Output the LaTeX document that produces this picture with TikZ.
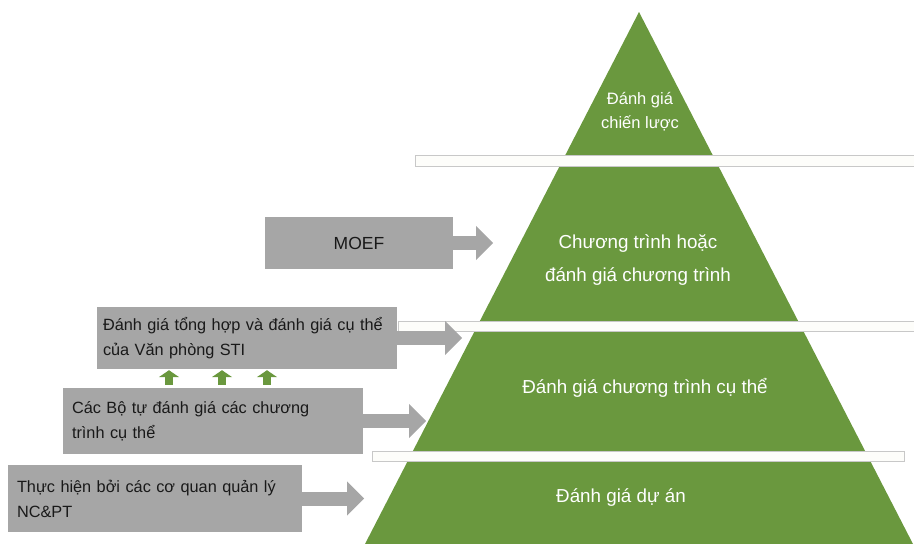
\documentclass[tikz,border=0pt]{standalone}
\usepackage{fontspec}
\setmainfont{Liberation Sans}
\usetikzlibrary{arrows.meta,positioning}
\definecolor{pyrgreen}{RGB}{106,152,62}
\definecolor{boxgray}{RGB}{166,166,166}
\definecolor{barline}{RGB}{200,200,200}
\definecolor{barfill}{RGB}{253,253,250}
\definecolor{boxtext}{RGB}{25,25,25}

\begin{document}
\begin{tikzpicture}[x=1pt,y=-1pt,
  boxnode/.style={fill=boxgray, inner xsep=9pt, inner ysep=0pt, align=left,
    text=boxtext, font=\fontsize{16.3}{25}\selectfont},
  layertext/.style={text=white, align=center, font=\fontsize{18.8}{33}\selectfont},
  gapbar/.style={draw=barline, fill=barfill, line width=1pt},
  grayarrow/.style={draw=boxgray, line width=14pt, -{Triangle[width=33pt,length=17pt]}},
  uparrow/.style={draw=pyrgreen, line width=8pt, -{Triangle[width=20pt,length=7pt]}}]
\useasboundingbox (0,0) rectangle (914,544);
% pyramid and the gaps between its layers
\fill[pyrgreen] (639,12) -- (913,544) -- (365,544) -- cycle;
\draw[gapbar] (415,155) rectangle (920,166);
\draw[gapbar] (398,321) rectangle (920,331);
\draw[gapbar] (372,451) rectangle (904,461);
\node[layertext, font=\fontsize{16.5}{24}\selectfont] (strat) at (640,112) {Đánh giá\\chiến lược};
\node[layertext] (prog) at (638,260) {Chương trình hoặc\\đánh giá chương trình};
\node[layertext] (spec) at (645,388) {Đánh giá chương trình cụ thể};
\node[layertext] (proj) at (621,498) {Đánh giá dự án};
% actors
\node[boxnode, align=center, font=\fontsize{17.5}{25}\selectfont, minimum width=188pt, minimum height=52pt] (moef) at (359,243) {MOEF};
\node[boxnode, inner xsep=6pt, text width=288pt, minimum height=62pt] (tonghop) at (247,338)
  {Đánh giá tổng hợp và đánh giá cụ thể\\của Văn phòng STI};
\node[boxnode, text width=282pt, minimum height=66pt] (cacbo) at (213,421)
  {Các Bộ tự đánh giá các chương\\trình cụ thể};
\node[boxnode, text width=276pt, minimum height=67pt] (thuchien) at (155,498.5)
  {Thực hiện bởi các cơ quan quản lý\\NC\&PT};
% arrows
\coordinate[right=40pt of moef.east] (moeftip);
\coordinate[right=65pt of tonghop.east] (tonghoptip);
\coordinate[right=63pt of cacbo.east] (cacbotip);
\coordinate[right=62pt of thuchien.east] (thuchientip);
\draw[grayarrow] (moef.east) -- (moeftip);
\draw[grayarrow] (tonghop.east) -- (tonghoptip);
\draw[grayarrow] (cacbo.east) -- (cacbotip);
\draw[grayarrow] (thuchien.east) -- (thuchientip);
\foreach \x in {169,222,267}
  \draw[uparrow, shorten <=3pt, shorten >=1pt] (\x,0 |- cacbo.north) -- (\x,0 |- tonghop.south);
\end{tikzpicture}
\end{document}
